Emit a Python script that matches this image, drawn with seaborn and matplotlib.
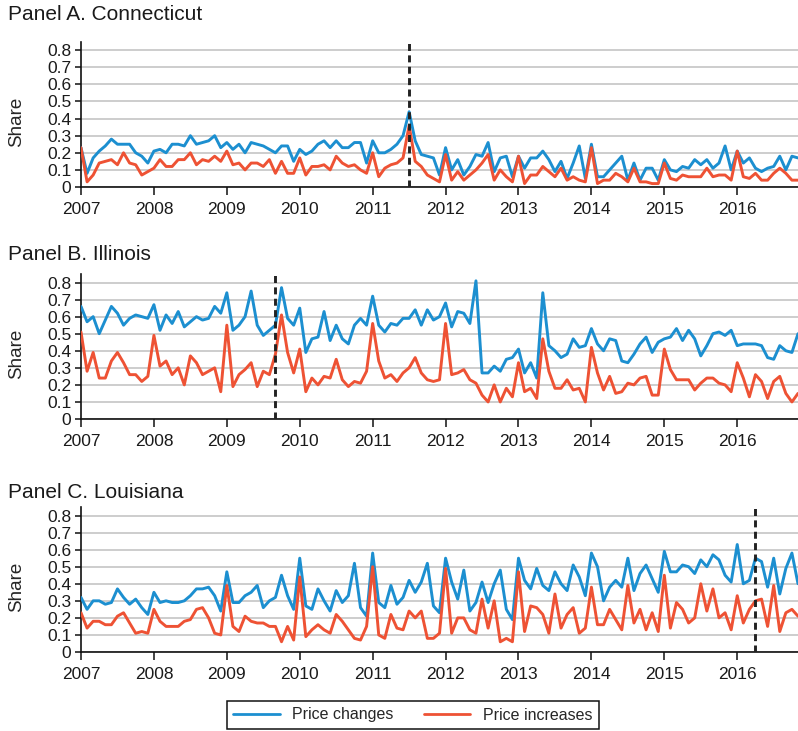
import numpy as np
import pandas as pd
import matplotlib
matplotlib.use("Agg")
import matplotlib.pyplot as plt
from matplotlib.lines import Line2D
import seaborn as sns

# ---------------- data ----------------
start_year = 2007
n_months = 119  # Jan 2007 .. Nov 2016

ct_changes = [0.23, 0.08, 0.17, 0.21, 0.24, 0.28, 0.25, 0.25, 0.25, 0.20,
              0.18, 0.14, 0.21, 0.22, 0.20, 0.25, 0.25, 0.24, 0.30, 0.25,
              0.26, 0.27, 0.30, 0.23, 0.26, 0.22, 0.25, 0.20, 0.26, 0.25,
              0.24, 0.22, 0.20, 0.24, 0.24, 0.15, 0.22, 0.19, 0.21, 0.25,
              0.27, 0.23, 0.27, 0.23, 0.23, 0.26, 0.26, 0.14, 0.27, 0.20,
              0.20, 0.22, 0.25, 0.30, 0.44, 0.27, 0.19, 0.18, 0.17, 0.07,
              0.23, 0.10, 0.16, 0.07, 0.12, 0.19, 0.18, 0.26, 0.09, 0.17,
              0.18, 0.06, 0.18, 0.11, 0.17, 0.17, 0.21, 0.16,
              0.09, 0.15, 0.05, 0.14, 0.24, 0.05, 0.25, 0.06, 0.06, 0.10,
              0.14, 0.18, 0.04, 0.14, 0.04, 0.11, 0.11, 0.04, 0.16, 0.10,
              0.09, 0.12, 0.11, 0.16, 0.13, 0.16, 0.11, 0.14, 0.24, 0.10,
              0.21, 0.14, 0.17, 0.11, 0.09, 0.11, 0.12, 0.18, 0.10, 0.18, 0.17]
ct_increases = [0.23, 0.03, 0.07, 0.14, 0.15, 0.16, 0.13, 0.20, 0.14, 0.13,
                0.07, 0.09, 0.11, 0.16, 0.12, 0.12, 0.16, 0.16, 0.20, 0.13,
                0.16, 0.15, 0.18, 0.15, 0.21, 0.13, 0.14, 0.10, 0.14, 0.14,
                0.12, 0.16, 0.08, 0.15, 0.08, 0.08, 0.17, 0.07, 0.12, 0.12,
                0.13, 0.10, 0.18, 0.14, 0.12, 0.13, 0.10, 0.08, 0.20, 0.06,
                0.11, 0.13, 0.14, 0.17, 0.36, 0.15, 0.12, 0.07, 0.05, 0.03,
                0.19, 0.04, 0.09, 0.04, 0.07, 0.10, 0.14, 0.19, 0.04, 0.10,
                0.06, 0.03, 0.18, 0.02, 0.07, 0.07, 0.12, 0.09,
                0.06, 0.11, 0.04, 0.06, 0.04, 0.03, 0.23, 0.02, 0.04, 0.04,
                0.08, 0.06, 0.03, 0.11, 0.03, 0.03, 0.02, 0.02, 0.14, 0.05,
                0.04, 0.07, 0.06, 0.06, 0.06, 0.11, 0.06, 0.07, 0.07, 0.04,
                0.21, 0.06, 0.05, 0.08, 0.04, 0.04, 0.08, 0.11, 0.08, 0.04, 0.04]

il_changes = [0.66, 0.57, 0.60, 0.50, 0.58, 0.66, 0.62, 0.55, 0.59, 0.61,
              0.60, 0.59, 0.67, 0.52, 0.61, 0.56, 0.63, 0.54, 0.57, 0.60,
              0.58, 0.59, 0.66, 0.62, 0.74, 0.52, 0.55, 0.60, 0.75, 0.55,
              0.49, 0.52, 0.55, 0.77, 0.59, 0.55, 0.65, 0.39, 0.47, 0.48,
              0.63, 0.46, 0.55, 0.47, 0.44, 0.55, 0.59, 0.55, 0.72, 0.55,
              0.51, 0.56, 0.55, 0.59, 0.59, 0.64, 0.55, 0.64, 0.58, 0.60,
              0.68, 0.54, 0.63, 0.62, 0.56, 0.81, 0.27, 0.27, 0.31, 0.28,
              0.35, 0.36, 0.41, 0.27, 0.33, 0.24, 0.74, 0.43,
              0.40, 0.36, 0.38, 0.47, 0.42, 0.43, 0.53, 0.44, 0.40, 0.47,
              0.46, 0.34, 0.33, 0.38, 0.44, 0.48, 0.39, 0.45, 0.47, 0.48,
              0.53, 0.46, 0.52, 0.47, 0.37, 0.43, 0.50, 0.51, 0.49, 0.52,
              0.43, 0.44, 0.44, 0.44, 0.43, 0.36, 0.35, 0.43, 0.40, 0.39, 0.50]
il_increases = [0.51, 0.28, 0.39, 0.24, 0.24, 0.34, 0.39, 0.33, 0.26, 0.26,
                0.22, 0.25, 0.49, 0.31, 0.34, 0.26, 0.30, 0.20, 0.37, 0.33,
                0.26, 0.28, 0.30, 0.16, 0.55, 0.19, 0.26, 0.29, 0.33, 0.19,
                0.28, 0.26, 0.38, 0.61, 0.39, 0.27, 0.41, 0.16, 0.24, 0.20,
                0.25, 0.24, 0.35, 0.23, 0.19, 0.22, 0.21, 0.28, 0.56, 0.34,
                0.24, 0.26, 0.22, 0.27, 0.30, 0.36, 0.27, 0.23, 0.22, 0.23,
                0.56, 0.26, 0.27, 0.29, 0.23, 0.21, 0.14, 0.10, 0.20, 0.10,
                0.18, 0.13, 0.33, 0.16, 0.18, 0.12, 0.47, 0.28,
                0.18, 0.18, 0.23, 0.17, 0.18, 0.10, 0.42, 0.27, 0.17, 0.25,
                0.15, 0.16, 0.21, 0.20, 0.24, 0.25, 0.14, 0.14, 0.41, 0.29,
                0.23, 0.23, 0.23, 0.17, 0.21, 0.24, 0.24, 0.21, 0.20, 0.16,
                0.33, 0.24, 0.13, 0.26, 0.22, 0.12, 0.22, 0.25, 0.15, 0.10, 0.15]

la_changes = [0.32, 0.25, 0.30, 0.30, 0.28, 0.29, 0.37, 0.32, 0.28, 0.31,
              0.26, 0.22, 0.35, 0.29, 0.30, 0.29, 0.29, 0.30, 0.33, 0.37,
              0.37, 0.38, 0.33, 0.24, 0.47, 0.29, 0.29, 0.33, 0.35, 0.39,
              0.26, 0.30, 0.32, 0.45, 0.33, 0.25, 0.55, 0.27, 0.25, 0.37,
              0.30, 0.24, 0.36, 0.29, 0.33, 0.52, 0.26, 0.21, 0.58, 0.29,
              0.26, 0.39, 0.28, 0.32, 0.42, 0.35, 0.41, 0.52, 0.27, 0.23,
              0.55, 0.41, 0.31, 0.48, 0.24, 0.29, 0.41, 0.29, 0.40, 0.48,
              0.25, 0.19, 0.55, 0.42, 0.37, 0.49, 0.39, 0.36,
              0.47, 0.40, 0.36, 0.51, 0.44, 0.33, 0.58, 0.50, 0.30, 0.38,
              0.42, 0.38, 0.55, 0.36, 0.46, 0.51, 0.43, 0.35, 0.59, 0.47,
              0.47, 0.51, 0.50, 0.46, 0.54, 0.50, 0.57, 0.54, 0.45, 0.41,
              0.63, 0.40, 0.42, 0.55, 0.53, 0.38, 0.55, 0.34, 0.49, 0.58, 0.40]
la_increases = [0.23, 0.14, 0.18, 0.18, 0.16, 0.16, 0.21, 0.23, 0.17, 0.11,
                0.12, 0.11, 0.25, 0.18, 0.15, 0.15, 0.15, 0.18, 0.19, 0.25,
                0.26, 0.20, 0.11, 0.10, 0.39, 0.15, 0.12, 0.21, 0.18, 0.17,
                0.17, 0.15, 0.15, 0.06, 0.15, 0.07, 0.44, 0.09, 0.13, 0.16,
                0.13, 0.11, 0.22, 0.18, 0.13, 0.08, 0.07, 0.15, 0.50, 0.10,
                0.08, 0.22, 0.14, 0.13, 0.24, 0.20, 0.24, 0.08, 0.08, 0.11,
                0.49, 0.11, 0.20, 0.20, 0.13, 0.11, 0.31, 0.14, 0.30, 0.06,
                0.08, 0.06, 0.47, 0.12, 0.27, 0.26, 0.22, 0.11,
                0.34, 0.14, 0.22, 0.26, 0.11, 0.14, 0.38, 0.16, 0.16, 0.25,
                0.19, 0.13, 0.39, 0.17, 0.25, 0.13, 0.23, 0.12, 0.45, 0.14,
                0.29, 0.25, 0.17, 0.20, 0.40, 0.24, 0.37, 0.20, 0.23, 0.13,
                0.33, 0.17, 0.25, 0.30, 0.31, 0.15, 0.39, 0.12, 0.23, 0.25, 0.21]

panel_titles = ["Panel A. Connecticut", "Panel B. Illinois", "Panel C. Louisiana"]
event_dates = ["2011-07", "2009-09", "2016-04"]
series_names = ["Price changes", "Price increases"]
year_ticks = list(range(2007, 2017))
share_ticks = [0, 0.1, 0.2, 0.3, 0.4, 0.5, 0.6, 0.7, 0.8]
share_labels = ["0", "0.1", "0.2", "0.3", "0.4", "0.5", "0.6", "0.7", "0.8"]

colors = {"Price changes": "#1c8fd0", "Price increases": "#ee5234"}

# ---------------- build ----------------
dates = pd.date_range(f"{start_year}-01-01", periods=n_months, freq="MS")
t = dates.year + (dates.month - 1) / 12.0

def dec_year(s):
    d = pd.Timestamp(s)
    return d.year + (d.month - 1) / 12.0

panels = [(ct_changes, ct_increases), (il_changes, il_increases), (la_changes, la_increases)]

sns.set_theme(style="white")
plt.rcParams["font.family"] = ["Liberation Sans", "DejaVu Sans"]

W, H = 798, 731
fig = plt.figure(figsize=(W / 100, H / 100), dpi=100)

axes_px = [(41.6, 187), (274, 419), (507, 652)]
title_y = [15, 255, 492]
left_px, right_px = 81, 798

for k, ((chg, inc), (top, bot)) in enumerate(zip(panels, axes_px)):
    ax = fig.add_axes([left_px / W, 1 - bot / H, (right_px - left_px) / W, (bot - top) / H])
    df = pd.DataFrame({
        "t": np.concatenate([t, t]),
        "share": np.concatenate([chg, inc]),
        "series": [series_names[0]] * n_months + [series_names[1]] * n_months,
    })
    ax.yaxis.grid(True, color="#c9c9c9", lw=1.3, zorder=0)
    ax.set_axisbelow(True)
    sns.lineplot(data=df, x="t", y="share", hue="series", palette=colors,
                 ax=ax, legend=False, lw=2.1, zorder=3)
    ax.axvline(dec_year(event_dates[k]), color="#222222", lw=2.1,
               ls=(0, (2.4, 1.5)), zorder=4)
    ax.set_xlim(2007, t[-1])
    ax.set_ylim(0, 0.85)
    ax.set_xticks(year_ticks)
    ax.set_xticklabels([str(y) for y in year_ticks])
    ax.set_yticks(share_ticks)
    ax.set_yticklabels(share_labels)
    ax.set_xlabel("")
    ax.set_ylabel("Share", fontsize=13.5)
    ax.yaxis.set_label_coords(-0.078, 0.45)
    for s in ["top", "right"]:
        ax.spines[s].set_visible(False)
    for s in ["left", "bottom"]:
        ax.spines[s].set_color("#111111")
        ax.spines[s].set_linewidth(1.2)
    ax.tick_params(axis="x", direction="out", length=6, width=1.1, color="#111111",
                   labelsize=12.5, pad=5, bottom=True)
    ax.tick_params(axis="y", direction="out", length=4, width=1.1, color="#111111",
                   labelsize=12.5, pad=3, left=True)
    for lab in ax.get_xticklabels() + ax.get_yticklabels():
        lab.set_color("#1a1a1a")
    fig.text(8 / W, 1 - title_y[k] / H, panel_titles[k], fontsize=15,
             va="center", ha="left", color="#1a1a1a")

handles = [Line2D([0], [0], color=colors[n], lw=2.0) for n in series_names]
leg = fig.legend(handles, series_names, loc="center", bbox_to_anchor=(413 / W, 1 - 715 / H),
                 ncol=2, frameon=True, fancybox=False, fontsize=11.5, handlelength=2.9,
                 columnspacing=1.9, borderpad=0.4, edgecolor="#111111", framealpha=1)
leg.get_frame().set_linewidth(1.1)

fig.savefig("out.png", dpi=100)
